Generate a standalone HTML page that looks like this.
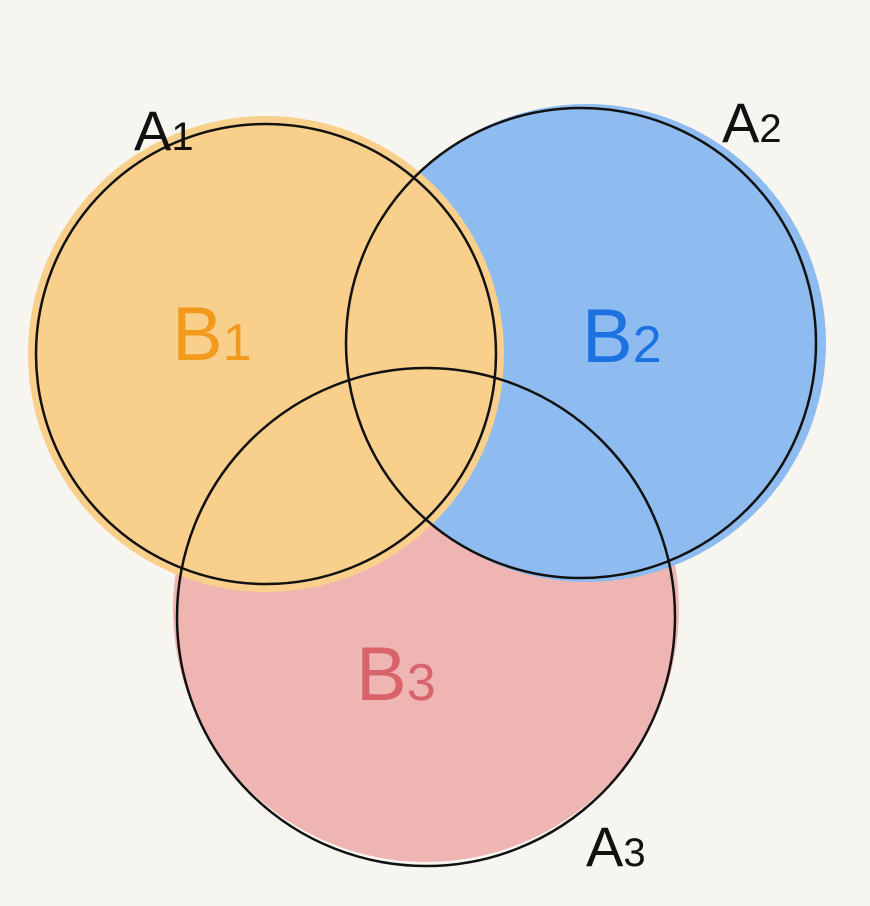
<!DOCTYPE html>
<html><head><meta charset="utf-8">
<style>
html,body{margin:0;padding:0;background:#f7f5f0;}
svg{display:block;}
text{font-family:"Liberation Sans",sans-serif;}
</style></head>
<body>
<svg id="venn" width="870" height="906" viewBox="0 0 870 906" xmlns="http://www.w3.org/2000/svg">
<rect width="870" height="906" fill="#f7f5f0"/>
<g id="fills"></g>
<g id="circles"></g>
<g id="labels"></g>
</svg>
<script>
const setNames = ["A1","A2","A3"];
const centerX = [266, 581, 426];
const centerY = [354, 343, 617];
const radii = [230, 235, 249];
const regionNames = ["B1","B2","B3"];
const regionColors = ["#f9cf8c","#8fbcf0","#eeb5b3"];
const regionLabelColors = ["#f29a1e","#1c72e0","#d9636a"];
const regionLabelX = [172, 582, 356];
const regionLabelY = [360, 362, 700];
const setLabelX = [134, 722, 586];
const setLabelY = [150, 142, 866];

const NS = "http://www.w3.org/2000/svg";
function mk(tag, attrs, parent){
  const e = document.createElementNS(NS, tag);
  for (const k in attrs) e.setAttribute(k, attrs[k]);
  parent.appendChild(e);
  return e;
}
const fills = document.getElementById('fills');
const circles = document.getElementById('circles');
const labels = document.getElementById('labels');

// red fill (bottom), then blue, then orange on top
const order = [2, 1, 0];
order.forEach(i => {
  const r = radii[i] + (i === 0 ? 8 : 4);
  const cx = centerX[i] + (i === 1 ? 6 : 0);
  const cy = centerY[i] + (i === 2 ? -8 : 0);
  const c = mk('circle', {cx: cx, cy: cy, r: r, fill: regionColors[i]}, fills);
  
  
});

setNames.forEach((n, i) => {
  const c = mk('circle', {cx: centerX[i], cy: centerY[i], r: radii[i], fill: 'none', stroke: '#111', 'stroke-width': 2.5}, circles);
  
  
  const t = mk('text', {x: setLabelX[i], y: setLabelY[i], 'font-size': 56, fill: '#111'}, labels);
  
  
  t.innerHTML = n[0] + '<tspan font-size="40">' + n.slice(1) + '</tspan>';
});

regionNames.forEach((n, i) => {
  const t = mk('text', {x: regionLabelX[i], y: regionLabelY[i], 'font-size': 76, fill: regionLabelColors[i]}, labels);
  
  
  t.innerHTML = n[0] + '<tspan font-size="52">' + n.slice(1) + '</tspan>';
});
</script>
</body></html>
